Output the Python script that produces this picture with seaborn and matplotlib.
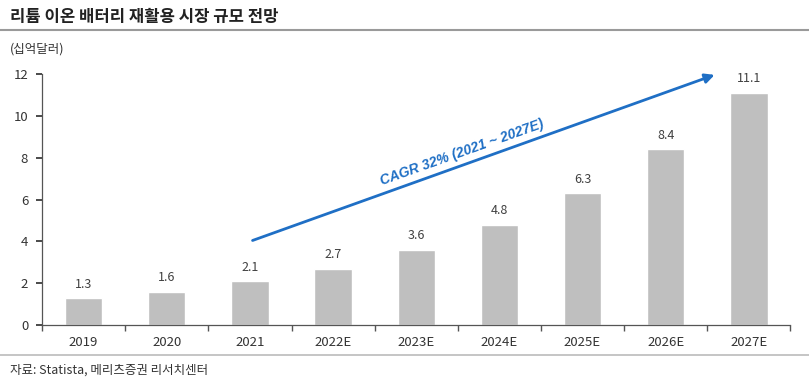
"""Lithium-ion battery recycling market size outlook bar chart."""

import matplotlib.pyplot as plt
import seaborn as sns
from matplotlib.lines import Line2D

years = ["2019", "2020", "2021", "2022E", "2023E", "2024E", "2025E", "2026E", "2027E"]
market_size = [1.3, 1.6, 2.1, 2.7, 3.6, 4.8, 6.3, 8.4, 11.1]

title = "리튬 이온 배터리 재활용 시장 규모 전망"
unit = "(십억달러)"
source = "자료: Statista, 메리츠증권 리서치센터"
cagr_label = "CAGR 32% (2021 ~ 2027E)"

sns.set_theme(style="white")
plt.rcParams["font.family"] = ["Noto Sans CJK KR", "DejaVu Sans"]

fig = plt.figure(figsize=(8.09, 3.83), dpi=100)
ax = fig.add_axes([0.052, 0.151, 0.925, 0.656])

sns.barplot(x=years, y=market_size, color="#BFBFBF", width=0.45,
            saturation=1, ax=ax)

for i, v in enumerate(market_size):
    ax.text(i, v + 0.35, f"{v:.1f}", ha="center", va="bottom",
            fontsize=9, color="#404040")

ax.set_ylim(0, 12)
ax.set_xlim(-0.5, len(years) - 0.5)
ax.set_yticks(range(0, 13, 2))
ax.tick_params(axis="y", labelsize=9.5, colors="#333333", length=4,
               direction="out", left=True, pad=6)
ax.tick_params(axis="x", labelsize=9.5, colors="#333333", length=0, pad=8)
ax.set_xticks(range(len(years)))
ax.set_xticklabels(years)
ax.set_xticks([i - 0.5 for i in range(len(years) + 1)], minor=True)
ax.tick_params(axis="x", which="minor", length=4, color="#555555",
               bottom=True, direction="out")
for s in ["top", "right"]:
    ax.spines[s].set_visible(False)
for s in ["left", "bottom"]:
    ax.spines[s].set_color("#555555")
    ax.spines[s].set_linewidth(0.9)

# CAGR arrow
ax.annotate("", xy=(7.62, 12.0), xytext=(2.0, 4.0),
            arrowprops=dict(arrowstyle="-|>", color="#1F6FC5", lw=2,
                            mutation_scale=14), annotation_clip=False)
ax.text(4.55, 8.25, cagr_label, rotation=19.6, ha="center", va="center",
        fontsize=10, color="#1F6FC5", fontweight="bold", fontstyle="italic",
        fontfamily="Liberation Sans", rotation_mode="anchor")

# header, unit, footer
fig.text(0.012, 0.955, title, fontsize=12, fontweight="bold",
         color="#222222", va="center")
fig.add_artist(Line2D([0, 1], [0.922, 0.922], color="#9A9A9A", lw=1.5))
fig.text(0.012, 0.873, unit, fontsize=9, color="#333333", va="center")
fig.add_artist(Line2D([0, 1], [0.073, 0.073], color="#BBBBBB", lw=1.2))
fig.text(0.012, 0.034, source, fontsize=9, color="#333333", va="center")

fig.savefig("out.png", dpi=100)
plt.close(fig)
